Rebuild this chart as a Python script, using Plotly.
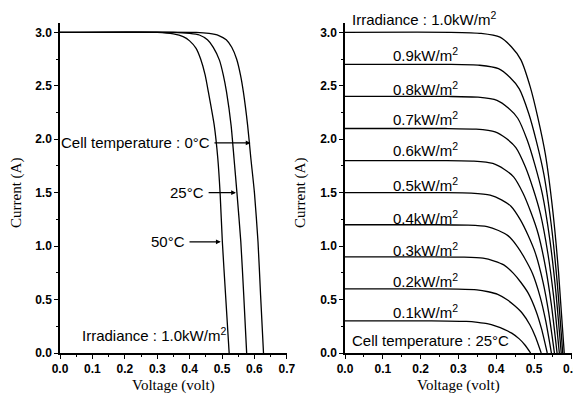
import plotly.graph_objects as go

# ---------------- Left panel: temperature effect (irradiance 1.0 kW/m2) ----------------
temp_labels = ["0°C", "25°C", "50°C"]
v_t0 = [0.0, 0.42, 0.46, 0.49, 0.513, 0.530, 0.545, 0.557, 0.566, 0.579, 0.589, 0.600, 0.611, 0.619, 0.628]
i_t0 = [3.0, 3.0, 2.99, 2.97, 2.93, 2.86, 2.75, 2.60, 2.44, 2.13, 1.82, 1.50, 1.04, 0.54, 0.0]
v_t25 = [0.0, 0.35, 0.40, 0.43, 0.455, 0.473, 0.492, 0.504, 0.514, 0.528, 0.537, 0.546, 0.558, 0.567, 0.576]
i_t25 = [3.0, 3.0, 2.99, 2.975, 2.93, 2.86, 2.74, 2.60, 2.44, 2.13, 1.82, 1.50, 1.04, 0.54, 0.0]
v_t50 = [0.0, 0.30, 0.35, 0.38, 0.40, 0.42, 0.434, 0.448, 0.458, 0.476, 0.487, 0.494, 0.501, 0.511, 0.522]
i_t50 = [3.0, 3.0, 2.985, 2.96, 2.92, 2.85, 2.75, 2.60, 2.44, 2.13, 1.82, 1.50, 1.04, 0.54, 0.0]

# ---------------- Right panel: irradiance effect (cell temperature 25 C) ----------------
irr_labels = ["1.0", "0.9", "0.8", "0.7", "0.6", "0.5", "0.4", "0.3", "0.2", "0.1"]
v_g10 = [0, 0.28, 0.36, 0.41, 0.44, 0.465, 0.49, 0.51, 0.53, 0.55, 0.565, 0.58]
i_g10 = [3.0, 3.0, 2.99, 2.955, 2.865, 2.745, 2.49, 2.205, 1.86, 1.32, 0.75, 0]
v_g09 = [0, 0.276, 0.356, 0.406, 0.436, 0.461, 0.486, 0.506, 0.526, 0.546, 0.561, 0.576]
i_g09 = [2.7, 2.7, 2.692, 2.66, 2.579, 2.471, 2.241, 1.985, 1.674, 1.188, 0.675, 0]
v_g08 = [0, 0.272, 0.352, 0.402, 0.432, 0.457, 0.482, 0.502, 0.522, 0.542, 0.557, 0.572]
i_g08 = [2.4, 2.4, 2.393, 2.364, 2.292, 2.196, 1.992, 1.764, 1.488, 1.056, 0.6, 0]
v_g07 = [0, 0.267, 0.347, 0.397, 0.427, 0.452, 0.477, 0.497, 0.517, 0.537, 0.552, 0.567]
i_g07 = [2.1, 2.1, 2.094, 2.069, 2.006, 1.922, 1.743, 1.544, 1.302, 0.924, 0.525, 0]
v_g06 = [0, 0.261, 0.341, 0.391, 0.421, 0.446, 0.471, 0.491, 0.511, 0.531, 0.546, 0.561]
i_g06 = [1.8, 1.8, 1.795, 1.773, 1.719, 1.647, 1.494, 1.323, 1.116, 0.792, 0.45, 0]
v_g05 = [0, 0.254, 0.334, 0.384, 0.414, 0.439, 0.464, 0.484, 0.504, 0.524, 0.539, 0.554]
i_g05 = [1.5, 1.5, 1.496, 1.478, 1.433, 1.373, 1.245, 1.103, 0.93, 0.66, 0.375, 0]
v_g04 = [0, 0.246, 0.326, 0.376, 0.406, 0.431, 0.456, 0.476, 0.496, 0.516, 0.531, 0.546]
i_g04 = [1.2, 1.2, 1.196, 1.182, 1.146, 1.098, 0.996, 0.882, 0.744, 0.528, 0.3, 0]
v_g03 = [0, 0.235, 0.315, 0.365, 0.395, 0.42, 0.445, 0.465, 0.485, 0.505, 0.52, 0.535]
i_g03 = [0.9, 0.9, 0.897, 0.887, 0.86, 0.824, 0.747, 0.662, 0.558, 0.396, 0.225, 0]
v_g02 = [0, 0.219, 0.299, 0.349, 0.379, 0.404, 0.429, 0.449, 0.469, 0.489, 0.504, 0.519]
i_g02 = [0.6, 0.6, 0.598, 0.591, 0.573, 0.549, 0.498, 0.441, 0.372, 0.264, 0.15, 0]
v_g01 = [0, 0.191, 0.271, 0.321, 0.351, 0.376, 0.401, 0.421, 0.441, 0.461, 0.476, 0.491]
i_g01 = [0.3, 0.3, 0.299, 0.296, 0.287, 0.275, 0.249, 0.221, 0.186, 0.132, 0.075, 0]

# label y-positions
irr_label_y = [3.12, 2.79, 2.47, 2.19, 1.90, 1.58, 1.27, 0.97, 0.68, 0.386]

# tick values / labels
x1_ticks = [0.0, 0.1, 0.2, 0.3, 0.4, 0.5, 0.6, 0.7]
x2_ticks = [0.0, 0.1, 0.2, 0.3, 0.4, 0.5, 0.6]
x2_ticktext = ["0.0", "0.1", "0.2", "0.3", "0.4", "0.5", ""]   # last label placed below as text
x2_last_label = "0.6"
x_minor = [0.05, 0.15, 0.25, 0.35, 0.45, 0.55, 0.65]
y_ticks = [0.0, 0.5, 1.0, 1.5, 2.0, 2.5, 3.0]
y_minor = [0.25, 0.75, 1.25, 1.75, 2.25, 2.75]

x_title = "Voltage (volt)"
y_title = "Current (A)"

fig = go.Figure()
line = dict(color="black", width=1.3, shape="spline", smoothing=0.6)

for vv, ii, name in [(v_t0, i_t0, temp_labels[0]), (v_t25, i_t25, temp_labels[1]), (v_t50, i_t50, temp_labels[2])]:
    fig.add_trace(go.Scatter(x=vv, y=ii, mode="lines", line=line, name=name,
                             xaxis="x", yaxis="y", showlegend=False, hoverinfo="skip"))

right = [(v_g10, i_g10), (v_g09, i_g09), (v_g08, i_g08), (v_g07, i_g07), (v_g06, i_g06),
         (v_g05, i_g05), (v_g04, i_g04), (v_g03, i_g03), (v_g02, i_g02), (v_g01, i_g01)]
for (vv, ii), name in zip(right, irr_labels):
    fig.add_trace(go.Scatter(x=vv, y=ii, mode="lines", line=line, name=name,
                             xaxis="x2", yaxis="y2", showlegend=False, hoverinfo="skip"))

tickfont = dict(family="Liberation Sans", size=12, color="black", weight="bold")
common = dict(showgrid=False, zeroline=False, showline=True, linecolor="black", linewidth=1.5,
              ticks="outside", ticklen=4, tickwidth=1.2, tickcolor="black", tickfont=tickfont,
              automargin=False, ticklabeloverflow="allow", tickformat=".1f")

# page body has an 8px margin: figure is placed at (8, 8) in the 581x400 window.
OFF = 8.0
W, H = 600.0, 392.0
def fx(px):
    return (px - OFF) / W
def fy(py):
    return (H - (py - OFF)) / H

Y_BOT = 353.0
Y_TOP = 22.7
minor_x = dict(tickvals=x_minor, ticks="outside", ticklen=2.5, tickcolor="black")
minor_y = dict(tickvals=y_minor, ticks="outside", ticklen=2.5, tickcolor="black")
fig.update_layout(
    template="none",
    width=int(W), height=int(H),
    margin=dict(l=0, r=0, t=0, b=0, autoexpand=False),
    paper_bgcolor="white", plot_bgcolor="white",
    xaxis=dict(domain=[fx(60), fx(287)], range=[0, 0.7005], tickvals=x1_ticks, anchor="y",
               minor=minor_x, **common),
    yaxis=dict(domain=[fy(Y_BOT), fy(Y_TOP)], range=[0, 3.09], tickvals=y_ticks,
               anchor="x", minor=minor_y, **common),
    xaxis2=dict(domain=[fx(345), fx(572)], range=[0, 0.6005], tickvals=x2_ticks, ticktext=x2_ticktext,
                anchor="y2", minor=minor_x, **common),
    yaxis2=dict(domain=[fy(Y_BOT), fy(Y_TOP)], range=[0, 3.09], tickvals=y_ticks,
                anchor="x2", minor=minor_y, **common),
)

afont = dict(family="Liberation Sans", size=15, color="black")
tfont = dict(family="Liberation Serif", size=15, color="black")
ann = []
# last tick label of the right x axis (kept as text at its tick position)
ann.append(dict(x=0.6, y=fy(369), xref="x2", yref="paper", text=x2_last_label, showarrow=False,
                xanchor="center", yanchor="middle", font=tickfont))
# Left panel texts
ann.append(dict(x=0.469, y=1.965, xref="x", yref="y", text="Cell temperature : 0°C", showarrow=False,
                xanchor="right", yanchor="middle", font=afont))
ann.append(dict(x=0.451, y=1.50, xref="x", yref="y", text="25°C", showarrow=False,
                xanchor="right", yanchor="middle", font=afont))
ann.append(dict(x=0.393, y=1.04, xref="x", yref="y", text="50°C", showarrow=False,
                xanchor="right", yanchor="middle", font=afont))
ann.append(dict(x=0.062, y=0.17, xref="x", yref="y", text="Irradiance : 1.0kW/m<sup>2</sup>", showarrow=False,
                xanchor="left", yanchor="middle", font=afont))
# arrows
for tail, head, yy in [(0.472, 0.588, 1.965), (0.454, 0.543, 1.50), (0.395, 0.496, 1.04)]:
    ann.append(dict(x=head, y=yy, ax=tail, ay=yy, xref="x", yref="y", axref="x", ayref="y", text="",
                    showarrow=True, arrowhead=2, arrowsize=0.8, arrowwidth=1.2, arrowcolor="black"))
# Right panel texts
ann.append(dict(x=0.013, y=fy(19), xref="x2", yref="paper", text="Irradiance : 1.0kW/m<sup>2</sup>",
                showarrow=False, xanchor="left", yanchor="middle", font=afont))
for lab, yy in zip(irr_labels[1:], irr_label_y[1:]):
    ann.append(dict(x=0.213, y=yy, xref="x2", yref="y2", text=lab + "kW/m<sup>2</sup>",
                    showarrow=False, xanchor="center", yanchor="middle", font=afont))
ann.append(dict(x=0.013, y=0.12, xref="x2", yref="y2", text="Cell temperature : 25°C",
                showarrow=False, xanchor="left", yanchor="middle", font=afont))
# axis titles
ann.append(dict(x=fx(173.5), y=fy(385), xref="paper", yref="paper", text=x_title, showarrow=False,
                xanchor="center", yanchor="middle", font=tfont))
ann.append(dict(x=fx(458.5), y=fy(385), xref="paper", yref="paper", text=x_title, showarrow=False,
                xanchor="center", yanchor="middle", font=tfont))
ann.append(dict(x=fx(16), y=fy(193), xref="paper", yref="paper", text=y_title, showarrow=False,
                textangle=-90, xanchor="center", yanchor="middle", font=tfont))
ann.append(dict(x=fx(300), y=fy(193), xref="paper", yref="paper", text=y_title, showarrow=False,
                textangle=-90, xanchor="center", yanchor="middle", font=tfont))
fig.update_layout(annotations=ann)

fig.write_html("out.html")
